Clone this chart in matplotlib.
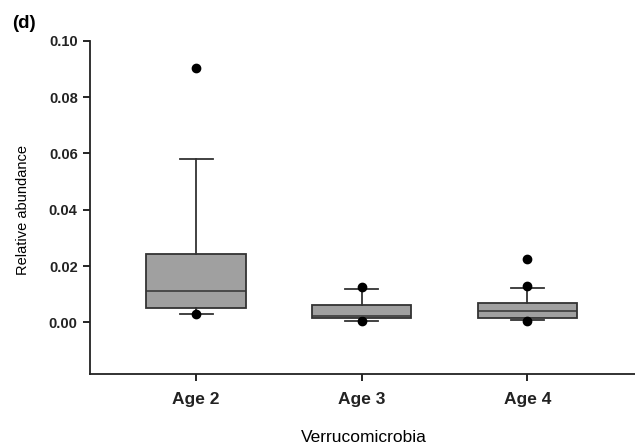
import matplotlib
matplotlib.use("Agg")
import matplotlib.pyplot as plt

plt.rcParams['font.family'] = ['Liberation Sans', 'DejaVu Sans']

groups = ['Age 2', 'Age 3', 'Age 4']
whislo = [0.0028, 0.0003, 0.0007]
q1 = [0.0050, 0.0014, 0.0014]
med = [0.0110, 0.0024, 0.0040]
q3 = [0.0241, 0.0063, 0.0067]
whishi = [0.0582, 0.0119, 0.0123]
# points shown beyond / at the whisker ends
fliers = [[0.0905, 0.0028], [0.0127, 0.0003], [0.0224, 0.0129, 0.0006]]

stats = []
for i, g in enumerate(groups):
    stats.append({'label': g, 'whislo': whislo[i], 'q1': q1[i], 'med': med[i],
                  'q3': q3[i], 'whishi': whishi[i], 'fliers': fliers[i]})

fig = plt.figure(figsize=(6.35, 4.44), dpi=100)
ax = fig.add_axes([0.142, 0.158, 0.858, 0.75])

edge = '#333333'
ax.bxp(stats, positions=[1, 2, 3], widths=0.6, patch_artist=True,
       boxprops=dict(facecolor='#a0a0a0', edgecolor=edge, linewidth=1.3),
       medianprops=dict(color=edge, linewidth=1.1),
       whiskerprops=dict(color=edge, linewidth=1.3),
       capprops=dict(color=edge, linewidth=1.3),
       capwidths=0.2,
       flierprops=dict(marker='o', markerfacecolor='black', markeredgecolor='black',
                       markersize=6, linestyle='none'))

ax.set_xlim(0.36, 3.65)
ax.set_ylim(-0.0183, 0.10)
ax.set_yticks([0.00, 0.02, 0.04, 0.06, 0.08, 0.10])
ax.set_yticklabels(['0.00', '0.02', '0.04', '0.06', '0.08', '0.10'],
                   fontsize=10.5, fontweight='bold', color='#222222')
ax.set_xticks([1, 2, 3])
ax.set_xticklabels(groups, fontsize=12.5, fontweight='bold', color='#222222')
ax.tick_params(axis='y', direction='out', length=5, width=1.2, pad=4)
ax.tick_params(axis='x', direction='out', length=5, width=1.2, pad=8)

for s in ['top', 'right']:
    ax.spines[s].set_visible(False)
for s in ['left', 'bottom']:
    ax.spines[s].set_linewidth(1.3)
    ax.spines[s].set_color('#222222')

fig.text(23 / 635, 1 - 210 / 444, 'Relative abundance', fontsize=10.5,
         rotation=90, ha='center', va='center')
fig.text(364 / 635, 1 - 437 / 444, 'Verrucomicrobia', fontsize=12.5,
         ha='center', va='center')
fig.text(12 / 635, 1 - 23 / 444, '(d)', fontsize=13.5, fontweight='bold',
         ha='left', va='center')

fig.savefig('out.png', dpi=100)
